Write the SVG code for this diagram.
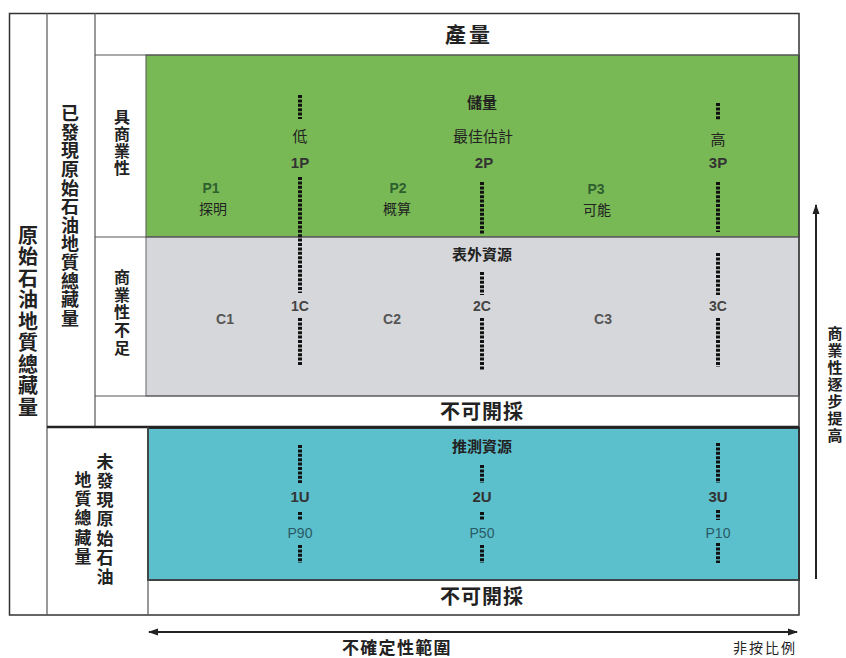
<svg xmlns="http://www.w3.org/2000/svg" width="846" height="658" viewBox="0 0 846 658">
<defs>
<style>
.cjk{font-family:"Noto Sans CJK TC","Noto Sans CJK SC",sans-serif;fill:#222}
.b{font-weight:bold}
.lat{font-family:"Liberation Sans",Arial,sans-serif;font-weight:bold}
.n{font-weight:normal}
.dash{stroke:#111;stroke-width:4;stroke-dasharray:3 1.4;fill:none}
.ln{stroke:#555;stroke-width:1.2;fill:none}
.mid{text-anchor:middle}
.v{writing-mode:vertical-rl;text-anchor:middle}
</style>
<marker id="ah" viewBox="0 0 10 10" refX="9" refY="5" markerWidth="10" markerHeight="10" markerUnits="userSpaceOnUse" orient="auto-start-reverse">
<path d="M0,1.5 L10,5 L0,8.5 Z" fill="#222"/>
</marker>
</defs>
<rect width="846" height="658" fill="#fff"/>

<!-- panels -->
<g id="panel-reserves">
<rect x="146" y="55" width="653" height="182" fill="#79b955" stroke="#555" stroke-width="1"/>
</g>
<g id="panel-contingent">
<rect x="146" y="237" width="653" height="159" fill="#d6d7da" stroke="#666" stroke-width="1"/>
</g>
<g id="panel-prospective">
<rect x="148" y="428" width="651" height="152" fill="#5bbfcc" stroke="#2a3535" stroke-width="2"/>
</g>

<!-- frame lines -->
<g id="frame">
<rect x="9.5" y="13.5" width="789.5" height="601.5" fill="none" stroke="#333" stroke-width="1.5"/>
<line class="ln" x1="47" y1="13" x2="47" y2="615"/>
<line class="ln" x1="95" y1="13" x2="95" y2="427"/>
<line class="ln" x1="95" y1="55" x2="799" y2="55"/>
<line class="ln" x1="95" y1="237" x2="799" y2="237"/>
<line class="ln" x1="95" y1="396" x2="799" y2="396"/>
<line x1="47" y1="427" x2="799" y2="427" stroke="#222" stroke-width="2.5"/>
<line class="ln" x1="148" y1="427" x2="148" y2="615"/>
<line class="ln" x1="148" y1="580" x2="799" y2="580"/>
</g>

<!-- connectors: dashed ranges and axes -->
<g id="connectors">
<path class="dash" d="M300,95 V119 M300,177 V293 M300,318 V366"/>
<path class="dash" d="M482,182 V234 M482,272 V295 M482,318 V370"/>
<path class="dash" d="M718,103 V120 M718,182 V232 M718,253 V295 M718,318 V367"/>
<path class="dash" d="M300,445 V483 M300,512 V520 M300,545 V563"/>
<path class="dash" d="M482,465 V483 M482,512 V520 M482,545 V563"/>
<path class="dash" d="M718,443 V483 M718,510 V520 M718,543 V563"/>
<line x1="816" y1="579" x2="816" y2="205" stroke="#222" stroke-width="2" marker-end="url(#ah)"/>
<line x1="149" y1="632" x2="797" y2="632" stroke="#222" stroke-width="2" marker-start="url(#ah)" marker-end="url(#ah)"/>
</g>

<!-- left labels -->
<g id="label-total"><text class="cjk b v" font-size="20" letter-spacing="1.5" x="28" y="322">原始石油地質總藏量</text></g>
<g id="label-discovered"><text class="cjk b v" font-size="18" letter-spacing="0.6" x="70" y="216">已發現原始石油地質總藏量</text></g>
<g id="label-commercial"><text class="cjk b v" font-size="16" letter-spacing="1" x="122" y="143">具商業性</text></g>
<g id="label-subcommercial"><text class="cjk b v" font-size="16" letter-spacing="1.7" x="122" y="313">商業性不足</text></g>
<g id="label-undiscovered">
<text class="cjk b v" font-size="17" letter-spacing="2.2" x="105" y="520">未發現原始石油</text>
<text class="cjk b v" font-size="17" letter-spacing="2.2" x="83" y="519">地質總藏量</text>
</g>

<!-- row titles -->
<g id="production"><text class="cjk b mid" font-size="21" letter-spacing="3" x="469" y="42">產量</text></g>
<g id="unrecoverable-1"><text class="cjk b mid" font-size="20" letter-spacing="1" x="482" y="419">不可開採</text></g>
<g id="unrecoverable-2"><text class="cjk b mid" font-size="20" letter-spacing="1" x="482" y="604">不可開採</text></g>

<!-- reserves -->
<g id="reserves">
<text class="cjk b mid" font-size="15" x="482" y="108">儲量</text>
<text class="cjk mid" font-size="15" x="483" y="142">最佳估計</text>
<text class="cjk mid" font-size="15" x="300" y="142">低</text>
<text class="cjk mid" font-size="15" x="718" y="145">高</text>
<text class="lat mid" font-size="15" fill="#333" x="300" y="168">1P</text>
<text class="lat mid" font-size="15" fill="#333" x="484" y="168">2P</text>
<text class="lat mid" font-size="15" fill="#333" x="718" y="168">3P</text>
<text class="lat mid" font-size="14" fill="#2f5f2f" x="211" y="193">P1</text>
<text class="cjk mid" font-size="14" fill="#333" x="213" y="214">探明</text>
<text class="lat mid" font-size="14" fill="#2f5f2f" x="398" y="193">P2</text>
<text class="cjk mid" font-size="14" fill="#333" x="397" y="214">概算</text>
<text class="lat mid" font-size="14" fill="#2f5f2f" x="596" y="194">P3</text>
<text class="cjk mid" font-size="14" fill="#333" x="597" y="215">可能</text>
</g>

<!-- contingent -->
<g id="contingent">
<text class="cjk b mid" font-size="15" x="482" y="260">表外資源</text>
<text class="lat mid" font-size="14" fill="#444" x="300" y="311">1C</text>
<text class="lat mid" font-size="14" fill="#444" x="482" y="311">2C</text>
<text class="lat mid" font-size="14" fill="#444" x="718" y="311">3C</text>
<text class="lat mid" font-size="14" fill="#555" x="225" y="324">C1</text>
<text class="lat mid" font-size="14" fill="#555" x="392" y="324">C2</text>
<text class="lat mid" font-size="14" fill="#555" x="603" y="324">C3</text>
</g>

<!-- prospective -->
<g id="prospective">
<text class="cjk b mid" font-size="15" x="482" y="452">推測資源</text>
<text class="lat mid" font-size="15" fill="#333" x="300" y="502">1U</text>
<text class="lat mid" font-size="15" fill="#333" x="482" y="502">2U</text>
<text class="lat mid" font-size="15" fill="#333" x="718" y="502">3U</text>
<text class="lat n mid" font-size="14" fill="#2a5a66" x="300" y="538">P90</text>
<text class="lat n mid" font-size="14" fill="#2a5a66" x="482" y="538">P50</text>
<text class="lat n mid" font-size="14" fill="#2a5a66" x="718" y="538">P10</text>
</g>

<!-- axis labels -->
<g id="label-commerciality"><text class="cjk b v" font-size="15" letter-spacing="2" x="835" y="385">商業性逐步提高</text></g>
<g id="label-uncertainty"><text class="cjk b" font-size="17" letter-spacing="1.3" x="342" y="654">不確定性範圍</text></g>
<g id="label-scale"><text class="cjk" font-size="14" fill="#333" letter-spacing="2" x="733" y="653">非按比例</text></g>
</svg>
